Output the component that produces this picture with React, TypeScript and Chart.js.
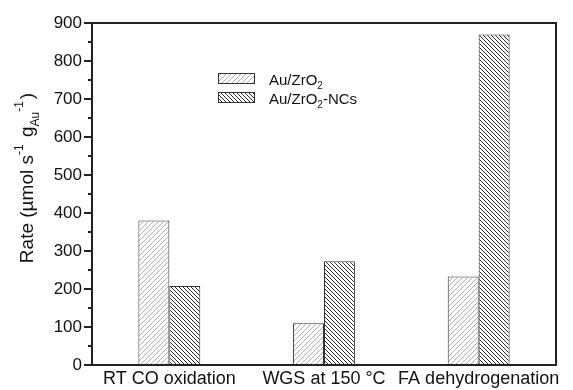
import React, { useEffect, useRef } from "react";
import { Chart, registerables } from "chart.js";

Chart.register(...registerables);

const categories = ["RT CO oxidation", "WGS at 150 °C", "FA dehydrogenation"];
const seriesNames = ["Au/ZrO2", "Au/ZrO2-NCs"];
const auZrO2 = [380, 110, 233];
const auZrO2NCs = [208, 273, 870];
const yMin = 0;
const yMax = 900;
const yStep = 100;
const yMinorStep = 50;

const FONT = "'Liberation Sans', Arial, Helvetica, sans-serif";

function makeHatch(size: number, forward: boolean, color: string, lw: number) {
  const c = document.createElement("canvas");
  c.width = size;
  c.height = size;
  const g = c.getContext("2d")!;
  g.fillStyle = "#ffffff";
  g.fillRect(0, 0, size, size);
  g.strokeStyle = color;
  g.lineWidth = lw;
  g.beginPath();
  if (forward) {
    for (const o of [-size, 0, size]) {
      g.moveTo(o - 1, size + 1);
      g.lineTo(o + size + 1, -1);
    }
  } else {
    for (const o of [-size, 0, size]) {
      g.moveTo(o - 1, -1);
      g.lineTo(o + size + 1, size + 1);
    }
  }
  g.stroke();
  return g.createPattern(c, "repeat") as CanvasPattern;
}

export default function App() {
  const ref = useRef<HTMLCanvasElement | null>(null);

  useEffect(() => {
    const canvas = ref.current!;
    const ctx = canvas.getContext("2d")!;
    const patA = makeHatch(5, true, "#b0b0b0", 1);
    const patB = makeHatch(4, false, "#2a2a2a", 1);

    const framePlugin = {
      id: "frameAndExtras",
      afterDraw(chart: any) {
        const c = chart.ctx as CanvasRenderingContext2D;
        const a = chart.chartArea;
        const y = chart.scales.y;
        c.save();
        // top and right frame
        c.strokeStyle = "#222";
        c.lineWidth = 2;
        c.beginPath();
        c.moveTo(a.left, a.top);
        c.lineTo(a.right, a.top);
        c.lineTo(a.right, a.bottom);
        c.stroke();
        // minor ticks
        c.lineWidth = 2;
        c.beginPath();
        for (let v = yMin + yMinorStep; v < yMax; v += yStep) {
          const py = Math.round(y.getPixelForValue(v));
          c.moveTo(a.left - 4, py);
          c.lineTo(a.left, py);
        }
        c.stroke();

        // y-axis title with super/subscripts
        const fs = 19;
        const parts: [string, string][] = [
          ["Rate (\u00b5mol s", "n"],
          ["-1", "sup"],
          [" g", "n"],
          ["Au", "sub"],
          ["-1", "sup"],
          [")", "n"],
        ];
        const small = Math.round(fs * 0.62);
        let total = 0;
        for (const [t, k] of parts) {
          c.font = `${k === "n" ? fs : small}px ${FONT}`;
          total += c.measureText(t).width;
        }
        c.translate(33, 180);
        c.rotate(-Math.PI / 2);
        c.fillStyle = "#111";
        c.textBaseline = "alphabetic";
        c.textAlign = "left";
        let x = -total / 2;
        for (const [t, k] of parts) {
          c.font = `${k === "n" ? fs : small}px ${FONT}`;
          const dy = k === "sup" ? -fs * 0.55 : k === "sub" ? fs * 0.3 : 0;
          c.fillText(t, x, dy);
          x += c.measureText(t).width + (k === "sup" ? 2 : 0);
        }
        c.restore();

        // legend
        c.save();
        const items = [
          { pat: patA, y: 73, base: "Au/ZrO", sub: "2", rest: "" },
          { pat: patB, y: 92, base: "Au/ZrO", sub: "2", rest: "-NCs" },
        ];
        for (const it of items) {
          c.fillStyle = it.pat;
          c.fillRect(218, it.y, 37, 11);
          c.strokeStyle = "#333";
          c.lineWidth = 1;
          c.strokeRect(218.5, it.y + 0.5, 36, 10);
          c.fillStyle = "#111";
          c.textBaseline = "alphabetic";
          c.textAlign = "left";
          c.font = `15px ${FONT}`;
          let tx = 269;
          const by = it.y + 11.5;
          c.fillText(it.base, tx, by);
          tx += c.measureText(it.base).width;
          c.font = `10px ${FONT}`;
          c.fillText(it.sub, tx, by + 4);
          tx += c.measureText(it.sub).width;
          if (it.rest) {
            c.font = `15px ${FONT}`;
            c.fillText(it.rest, tx, by);
          }
        }
        c.restore();
      },
    };

    const chart = new Chart(ctx, {
      type: "bar",
      data: {
        labels: categories,
        datasets: [
          {
            label: seriesNames[0],
            data: auZrO2,
            backgroundColor: patA as any,
            borderColor: "#333",
            borderWidth: 1,
            borderSkipped: "bottom",
            categoryPercentage: 0.4,
            barPercentage: 1,
          },
          {
            label: seriesNames[1],
            data: auZrO2NCs,
            backgroundColor: patB as any,
            borderColor: "#333",
            borderWidth: 1,
            borderSkipped: "bottom",
            categoryPercentage: 0.4,
            barPercentage: 1,
          },
        ],
      },
      options: {
        responsive: false,
        animation: false,
        devicePixelRatio: 1,
        layout: { padding: { top: 23, right: 17, bottom: 0, left: 0 } },
        plugins: {
          legend: { display: false },
          tooltip: { enabled: false },
          title: { display: false },
        },
        scales: {
          x: {
            offset: true,
            grid: { display: false, drawTicks: false },
            border: { display: true, color: "#222", width: 2 },
            ticks: {
              color: "#111",
              font: { family: FONT, size: 18 },
              padding: 3,
              maxRotation: 0,
              autoSkip: false,
            },
            afterFit: (s: any) => {
              s.height = 25;
            },
          },
          y: {
            min: yMin,
            max: yMax,
            grid: {
              drawOnChartArea: false,
              drawTicks: true,
              tickLength: 8,
              color: "#222",
              lineWidth: 2,
            },
            border: { display: true, color: "#222", width: 2 },
            ticks: {
              stepSize: yStep,
              color: "#111",
              font: { family: FONT, size: 17 },
              padding: 2,
            },
            afterFit: (s: any) => {
              s.width = 92;
            },
          },
        },
      },
      plugins: [framePlugin],
    });
    return () => chart.destroy();
  }, []);

  return (
    <div style={{ position: "fixed", left: 0, top: 0, width: 573, height: 390, background: "#fff" }}>
      <canvas ref={ref} width={573} height={390} style={{ width: 573, height: 390, display: "block" }} />
    </div>
  );
}
